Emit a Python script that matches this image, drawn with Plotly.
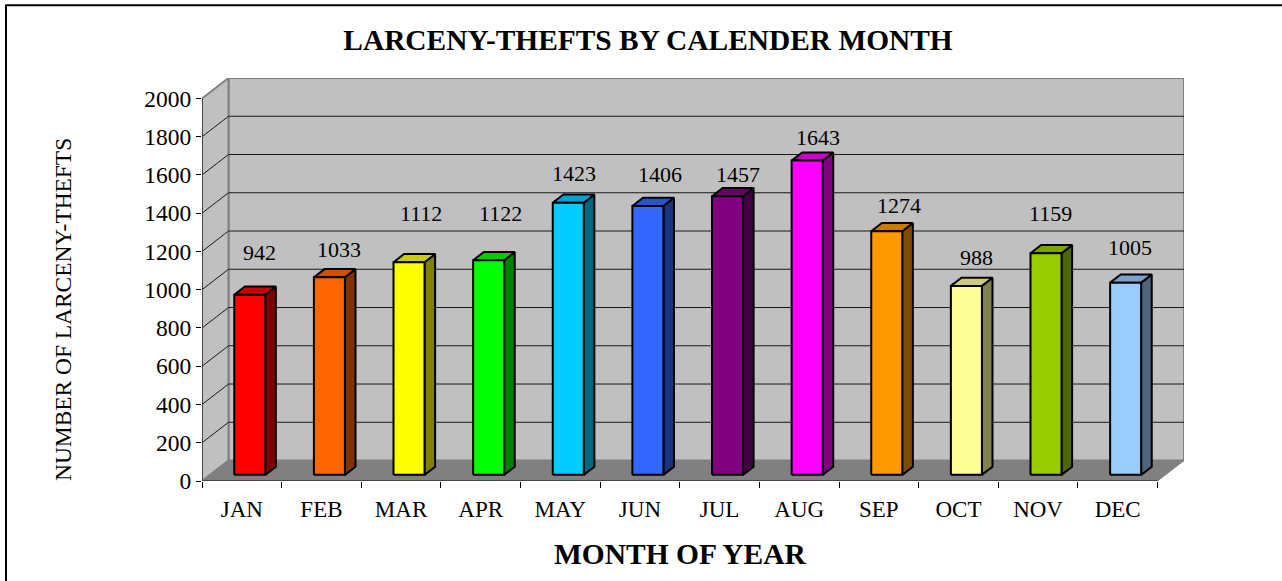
import plotly.graph_objects as go

MONTHS = ["JAN", "FEB", "MAR", "APR", "MAY", "JUN", "JUL", "AUG", "SEP", "OCT", "NOV", "DEC"]
THEFTS = [942, 1033, 1112, 1122, 1423, 1406, 1457, 1643, 1274, 988, 1159, 1005]
FRONT_COLORS = ["#ff0000", "#ff6600", "#ffff00", "#00ff00", "#00ccff", "#3366ff",
                "#800080", "#ff00ff", "#ff9900", "#ffff99", "#99cc00", "#99ccff"]
SIDE_COLORS = ["#800000", "#803300", "#808000", "#008000", "#006680", "#1a3380",
               "#400040", "#800080", "#804d00", "#80804d", "#4d6600", "#4d6680"]
TOP_COLORS = ["#cc0000", "#cc5200", "#cccc00", "#00cc00", "#00a3cc", "#2952cc",
              "#660066", "#cc00cc", "#cc7a00", "#cccc7a", "#7aa300", "#7aa3cc"]
Y_TICKS = list(range(0, 2001, 200))
# offsets of each value label from its bar top, in pixels
LABEL_SHIFT_X = [10, 10, 12, 12, 6, 12, 10, 11, 12, 10, 4, 4]
LABEL_SHIFT_Y = [42, 27, 48, 46, 29, 31, 21, 23, 25, 28, 39, 35]

W, H = 1282, 581
L, R, T, B = 202, 1184, 77.5, 481.5
CAT_PX = (1157.5 - L) / 12
PX_PER_UNIT = (481.5 - 98.5) / 2000
DX = (R - 1157.5) / CAT_PX      # depth in category units
DY = 20.5 / PX_PER_UNIT         # depth in value units
BAR_W = 31 / CAT_PX
D0, D1 = 0.30, 0.70


def scatter(xs, ys, fill=None, line=None, width=1):
    return go.Scatter(x=xs, y=ys, mode="lines", hoverinfo="skip", showlegend=False,
                      fill="toself" if fill else None, fillcolor=fill,
                      line=dict(color=line or fill, width=width if line else 0))


fig = go.Figure()
# walls and floor
fig.add_trace(scatter([DX, 12 + DX, 12 + DX, DX, DX], [DY, DY, 2000 + DY, 2000 + DY, DY], "#c0c0c0", "#808080", 2))
fig.add_trace(scatter([0, DX, DX, 0, 0], [0, DY, 2000 + DY, 2000, 0], "#c0c0c0", "#808080", 2))
fig.add_trace(scatter([0, 12, 12 + DX, DX, 0], [0, 0, DY, DY, 0], "#808080", "#808080", 1))
# gridlines
for v in Y_TICKS[1:-1]:
    fig.add_trace(scatter([0, DX, 12 + DX], [v, v + DY, v + DY], None, "#1a1a1a", 1))
# front edges
fig.add_trace(scatter([0, 0, 12], [2000, 0, 0], None, "#333333", 1.5))
# bars
for i, v in enumerate(THEFTS):
    x0 = i + 0.5 - BAR_W / 2 + D0 * DX
    x1 = x0 + BAR_W
    y0 = D0 * DY
    d_x, d_y = (D1 - D0) * DX, (D1 - D0) * DY
    top = v + y0
    fig.add_trace(scatter([x1, x1 + d_x, x1 + d_x, x1, x1], [y0, y0 + d_y, top + d_y, top, y0], SIDE_COLORS[i], "#000000", 2))
    fig.add_trace(scatter([x0, x1, x1 + d_x, x0 + d_x, x0], [top, top, top + d_y, top + d_y, top], TOP_COLORS[i], "#000000", 2))
    fig.add_trace(scatter([x0, x1, x1, x0, x0], [y0, y0, top, top, y0], FRONT_COLORS[i], "#000000", 2))
    fig.add_annotation(x=i + 0.5 + D0 * DX, y=top, text=str(v), showarrow=False, yanchor="bottom",
                       xshift=LABEL_SHIFT_X[i], yshift=LABEL_SHIFT_Y[i] - 14,
                       font=dict(size=22, color="#000000"))

# axis titles, placed off the plot-area centre as in the source
fig.add_annotation(xref="paper", yref="paper", x=(680.5 - L) / (R - L), y=(B - 555) / (B - T),
                   text="<b>MONTH OF YEAR</b>", showarrow=False, font=dict(size=29.5),
                   xanchor="center", yanchor="middle")
fig.add_annotation(xref="paper", yref="paper", x=(63 - L) / (R - L), y=(B - 310) / (B - T),
                   text="NUMBER OF LARCENY-THEFTS", showarrow=False, font=dict(size=23.4),
                   textangle=-90, xanchor="center", yanchor="middle")

fig.update_layout(
    width=W, height=H, autosize=False,
    margin=dict(l=L, r=W - R, t=T, b=H - B, autoexpand=False),
    paper_bgcolor="#ffffff", plot_bgcolor="#ffffff",
    font=dict(family="Liberation Serif", size=20, color="#000000"),
    title=dict(text="<b>LARCENY-THEFTS BY CALENDER MONTH</b>", x=648 / W, xanchor="center",
               y=1 - 40 / H, yanchor="middle", font=dict(size=29.4)),
    xaxis=dict(range=[0, 12 + DX], tickvals=[i + 0.5 for i in range(12)], ticktext=MONTHS,
               ticks="", showgrid=False, zeroline=False, showline=False, fixedrange=True,
               ticklabelstandoff=12, tickfont=dict(size=23),
               minor=dict(tickvals=list(range(13)), ticks="outside", ticklen=6, tickwidth=1,
                          tickcolor="#000000", showgrid=False)),
    yaxis=dict(range=[0, 2000 + DY], tickvals=Y_TICKS, ticks="outside", ticklen=5, tickwidth=1,
               tickcolor="#000000", showgrid=False, zeroline=False, showline=False, fixedrange=True,
               tickfont=dict(size=23.5)),
    shapes=[dict(type="rect", xref="paper", yref="paper", layer="below",
                 x0=(6 - L) / (R - L), x1=(W + 5 - L) / (R - L),
                 y0=(B - H - 5) / (B - T), y1=(B - 4.5) / (B - T),
                 line=dict(color="#000000", width=2), fillcolor="#ffffff")],
)
fig.write_html("out.html", config=dict(displayModeBar=False),
               post_script="document.body.style.margin='0';document.documentElement.style.overflow='hidden';")
